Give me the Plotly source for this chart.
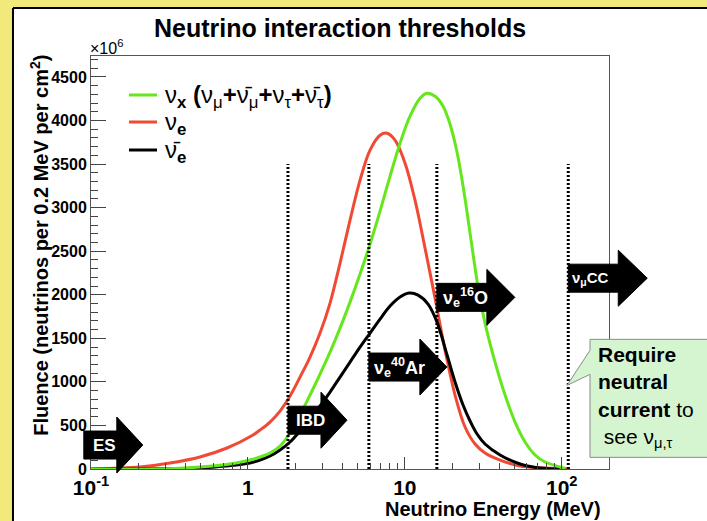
import math
import plotly.graph_objects as go

# ---- data -------------------------------------------------------------
# nu_x (nu_mu + anti-nu_mu + nu_tau + anti-nu_tau)
NUX_E = [0.1, 0.275, 0.495, 0.769, 1.031, 1.194, 1.383, 1.602, 1.855, 2.148, 2.488, 2.881, 3.337,
         3.864, 4.474, 5.183, 6.001, 6.949, 8.05, 9.32, 10.79, 12.5, 13.85, 15.58, 17.52, 19.41,
         21.51, 23.84, 26.42, 29.28, 32.44, 37.57, 43.52, 50.39, 58.38, 67.59, 78.27, 97.55, 105]
NUX_F = [0, 0, 23, 57, 103, 138, 184, 264, 413, 619, 849, 1090, 1342,
         1617, 1915, 2237, 2581, 2959, 3361, 3739, 4049, 4255, 4313, 4278, 4164, 3957,
         3636, 3177, 2627, 2088, 1675, 1227, 849, 539, 310, 161, 80, 23, 5]

# nu_e
NUE_E = [0.1, 0.205, 0.319, 0.495, 0.736, 1.078, 1.194, 1.383, 1.602, 1.855, 2.148, 2.488, 2.881,
         3.337, 3.864, 4.474, 5.183, 6.001, 6.949, 7.70, 8.66, 10.03, 11.61, 13.45, 15.58, 18.04,
         20.89, 24.19, 28.02, 32.44, 40.44, 54.23, 78.27, 112.9]
NUE_F = [0, 23, 69, 138, 241, 390, 447, 539, 665, 837, 1055, 1285, 1560,
         1904, 2363, 2856, 3315, 3659, 3831, 3854, 3774, 3510, 3085, 2535, 1961, 1365,
         849, 482, 287, 184, 103, 34, 11, 0]

# anti-nu_e
ANUE_E = [0.1, 0.495, 0.715, 1.031, 1.194, 1.383, 1.602, 1.855, 2.148, 2.488, 2.881, 3.337, 3.864,
          4.474, 5.183, 6.001, 6.949, 8.05, 9.32, 10.64, 12.14, 14.06, 16.04, 18.58, 20.89, 23.49,
          26.04, 28.85, 32.44, 40.44, 54.23, 72.74, 97.55]
ANUE_F = [0, 11, 34, 69, 103, 149, 218, 310, 436, 574, 723, 883, 1055,
          1227, 1399, 1560, 1721, 1870, 1973, 2019, 1996, 1893, 1686, 1308, 998, 734,
          551, 402, 287, 161, 57, 11, 0]

SERIES_NAMES = [
    "ν<sub><b>x</b></sub> <b>(</b>ν<sub>μ</sub><b>+</b>ν̄<sub>μ</sub><b>+</b>ν<sub>τ</sub><b>+</b>ν̄<sub>τ</sub><b>)</b>",
    "ν<sub><b>e</b></sub>",
    "ν̄<sub><b>e</b></sub>",
]

# interaction thresholds (MeV) and the channel opened above each
THRESH_MEV = [1.8, 5.9, 16.0, 110.0]
THRESH_TOP = 3500
CHANNELS = ["ES", "IBD", "ν<sub>e</sub><sup>40</sup>Ar", "ν<sub>e</sub><sup>16</sup>O", "ν<sub>μ</sub>CC"]
CHANNEL_START_MEV = [0.09, 1.8, 5.9, 16.0, 110.0]
CHANNEL_LEVEL = [275, 560, 1170, 1970, 2190]

X_RANGE = [0.1, 200]
Y_RANGE = [0, 4740]

GREEN = "#66e61c"
RED = "#f04a35"
BLACK = "#000000"
COLORS = [GREEN, RED, BLACK]
FONT = "Liberation Sans, Arial, sans-serif"


def xpaper(e):
    lo, hi = math.log10(X_RANGE[0]), math.log10(X_RANGE[1])
    return (math.log10(e) - lo) / (hi - lo)


def ypaper(v):
    return (v - Y_RANGE[0]) / (Y_RANGE[1] - Y_RANGE[0])


fig = go.Figure()

curve_style = dict(mode="lines", line_shape="spline", hoverinfo="skip", showlegend=False)
fig.add_trace(go.Scatter(x=NUE_E, y=NUE_F, name=SERIES_NAMES[1],
                         line=dict(color=RED, width=3, smoothing=1.0), **curve_style))
fig.add_trace(go.Scatter(x=ANUE_E, y=ANUE_F, name=SERIES_NAMES[2],
                         line=dict(color=BLACK, width=3, smoothing=1.0), **curve_style))
fig.add_trace(go.Scatter(x=NUX_E, y=NUX_F, name=SERIES_NAMES[0],
                         line=dict(color=GREEN, width=3, smoothing=1.0), **curve_style))

# dotted threshold markers
for e in THRESH_MEV:
    fig.add_trace(go.Scatter(x=[e, e], y=[0, THRESH_TOP], mode="lines", showlegend=False,
                             hoverinfo="skip", line=dict(color=BLACK, width=3, dash="2px,2px")))

shapes = []
annotations = []
# page panel: white sheet with black edge over the yellow backdrop
shapes.append(dict(type="rect", xref="paper", yref="paper", x0=-0.1486, x1=1.25, y0=-0.2, y1=1.1138,
                   fillcolor="white", line_width=0, layer="below"))
shapes.append(dict(type="line", xref="paper", yref="paper", x0=-0.1506, x1=-0.1506, y0=-0.2, y1=1.1162,
                   line=dict(color="black", width=2), layer="below"))
shapes.append(dict(type="line", xref="paper", yref="paper", x0=-0.1506, x1=1.25, y0=1.1162, y1=1.1162,
                   line=dict(color="black", width=2), layer="below"))

# legend box (top-left of the frame)
legend_rows = [0.9056, 0.8402, 0.7724]
for name, col, yr in zip(SERIES_NAMES, COLORS, legend_rows):
    shapes.append(dict(type="line", xref="paper", yref="paper", x0=0.0734, x1=0.1274, y0=yr, y1=yr,
                       line=dict(color=col, width=3), layer="above"))
    annotations.append(dict(xref="paper", yref="paper", x=0.139, y=yr, xanchor="left", yanchor="middle",
                            yshift=-2, showarrow=False, text=name,
                            font=dict(family=FONT, size=24, color="black")))

# block arrows for each channel
body_len = [33, 33, 51, 50, 50]
head_len = [26, 26, 27, 28, 29]
text_shift = [7, 6, 3, 4, 2]
text_size = [17, 17, 18, 18, 15]
for lab, e0, lev, bl, hl, ts, fs in zip(CHANNELS, CHANNEL_START_MEV, CHANNEL_LEVEL, body_len, head_len,
                                        text_shift, text_size):
    path = (f"M 0 14 L {bl} 14 L {bl} 28 L {bl + hl} 0 L {bl} -28 L {bl} -14 L 0 -14 Z")
    shapes.append(dict(type="path", xref="paper", yref="paper", xsizemode="pixel", ysizemode="pixel",
                       xanchor=xpaper(e0), yanchor=ypaper(lev), path=path,
                       fillcolor="black", line=dict(color="black", width=1), layer="above"))
    annotations.append(dict(xref="paper", yref="paper", x=xpaper(e0), y=ypaper(lev), xanchor="left",
                            yanchor="middle", xshift=ts, showarrow=False, text=f"<b>{lab}</b>",
                            font=dict(family=FONT, size=fs, color="white")))

# callout pointing to the nu_mu CC threshold
tip_e, tip_v = 108.0, 960
shapes.append(dict(type="path", xref="paper", yref="paper", xsizemode="pixel", ysizemode="pixel",
                   xanchor=xpaper(tip_e), yanchor=ypaper(tip_v),
                   path="M 23 46 L 170 46 L 170 -72 L 23 -72 L 23 11 L 0 0 L 23 35 Z",
                   fillcolor="#d4f5d0", line=dict(color="#8c8c8c", width=1), layer="above"))
annotations.append(dict(xref="paper", yref="paper", x=xpaper(tip_e), y=ypaper(tip_v), xanchor="left",
                        yanchor="top", xshift=29, yshift=44, showarrow=False, align="left",
                        text="<b>Require</b><br><b>neutral</b><br><b>current</b> to<br> see ν<sub>μ,τ</sub>",
                        font=dict(family=FONT, size=21, color="black")))

# axis titles and exponent label
annotations.append(dict(xref="paper", yref="paper", x=1, y=-0.0969, xanchor="right", yanchor="middle",
                        xshift=-6, showarrow=False, text="<b>Neutrino Energy (MeV)</b>",
                        font=dict(family=FONT, size=20, color="black")))
annotations.append(dict(xref="paper", yref="paper", x=-0.1, y=1.007, xanchor="center", yanchor="top",
                        textangle=-90, showarrow=False,
                        text="<b>Fluence (neutrinos per 0.2 MeV per cm<sup>2</sup>)</b>",
                        font=dict(family=FONT, size=20, color="black")))
annotations.append(dict(xref="paper", yref="paper", x=0, y=1, xanchor="left", yanchor="bottom",
                        xshift=-3, yshift=-3, showarrow=False, text="×10<sup>6</sup>",
                        font=dict(family=FONT, size=16, color="black")))

fig.update_layout(
    width=707, height=521,
    margin=dict(l=91, r=98, t=56, b=52, autoexpand=False),
    paper_bgcolor="#f1e97c",
    plot_bgcolor="white",
    title=dict(text="<b>Neutrino interaction thresholds</b>", x=0.481, xanchor="center",
               y=1 - 28 / 521, yanchor="middle", font=dict(family=FONT, size=25, color="black")),
    font=dict(family=FONT, color="black"),
    showlegend=False,
    shapes=shapes,
    annotations=annotations,
)

fig.update_xaxes(type="log", range=[math.log10(X_RANGE[0]), math.log10(X_RANGE[1])],
                 tickvals=[0.1, 1, 10, 100],
                 ticktext=["<b>10<sup>-1</sup></b>", "<b>1</b>", "<b>10</b>", "<b>10<sup>2</sup></b>"],
                 ticks="inside", ticklen=12, tickcolor="#444", tickwidth=1,
                 minor=dict(ticks="inside", ticklen=6, dtick="D1", tickcolor="#444"),
                 showline=True, linecolor="#555", linewidth=1, mirror=True, showgrid=False,
                 zeroline=False, automargin=False,
                 tickfont=dict(family=FONT, size=21, color="black"))
fig.update_yaxes(range=Y_RANGE, dtick=500, tick0=0,
                 ticks="inside", ticklen=15, tickcolor="#444", tickwidth=1,
                 minor=dict(ticks="inside", ticklen=7, dtick=100, tickcolor="#444"),
                 showline=True, linecolor="#555", linewidth=1, mirror=True, showgrid=False,
                 zeroline=False, automargin=False, tickformat="d",
                 tickprefix="<b>", ticksuffix="</b>",
                 tickfont=dict(family=FONT, size=16, color="black"))

fig.write_html("out.html")
